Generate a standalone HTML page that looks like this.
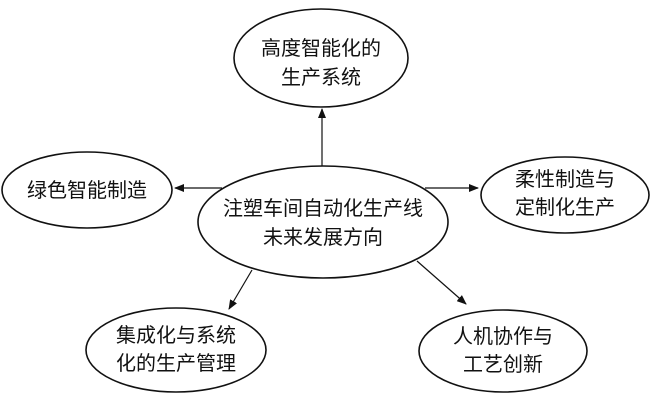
<!DOCTYPE html>
<html><head><meta charset="utf-8"><style>
html,body{margin:0;padding:0;background:#fff;}
svg{display:block;}
text{font-family:"Liberation Sans","Noto Sans CJK SC",sans-serif;font-size:20px;fill:#111;text-anchor:middle;}
</style></head><body>
<svg width="650" height="403" viewBox="0 0 650 403" xmlns="http://www.w3.org/2000/svg">
<defs><marker id="a" markerWidth="10" markerHeight="8" refX="9" refY="4" orient="auto" markerUnits="userSpaceOnUse"><path d="M0,0 L10,4 L0,8 z" fill="#111"/></marker></defs>
<g fill="none" stroke="#111" stroke-width="1.6">
<ellipse cx="321" cy="58" rx="87" ry="49"/>
<ellipse cx="87" cy="190" rx="85" ry="38"/>
<ellipse cx="565" cy="195" rx="84" ry="38"/>
<ellipse cx="323" cy="222" rx="125" ry="56"/>
<ellipse cx="176" cy="350" rx="90" ry="42"/>
<ellipse cx="503" cy="351" rx="84" ry="41"/>
</g>
<g stroke="#111" stroke-width="1.2" marker-end="url(#a)">
<line x1="322" y1="166" x2="322" y2="109"/>
<line x1="222" y1="188" x2="175" y2="188"/>
<line x1="425" y1="188" x2="478" y2="188"/>
<line x1="252" y1="270" x2="229" y2="309"/>
<line x1="417" y1="261" x2="466" y2="304"/>
</g>
<text x="321" y="55">高度智能化的</text>
<text x="321" y="84">生产系统</text>
<text x="87" y="197">绿色智能制造</text>
<text x="565" y="186">柔性制造与</text>
<text x="565" y="214">定制化生产</text>
<text x="323" y="215">注塑车间自动化生产线</text>
<text x="323" y="244">未来发展方向</text>
<text x="176" y="342">集成化与系统</text>
<text x="176" y="370">化的生产管理</text>
<text x="503" y="343">人机协作与</text>
<text x="503" y="371">工艺创新</text>
</svg>
</body></html>
